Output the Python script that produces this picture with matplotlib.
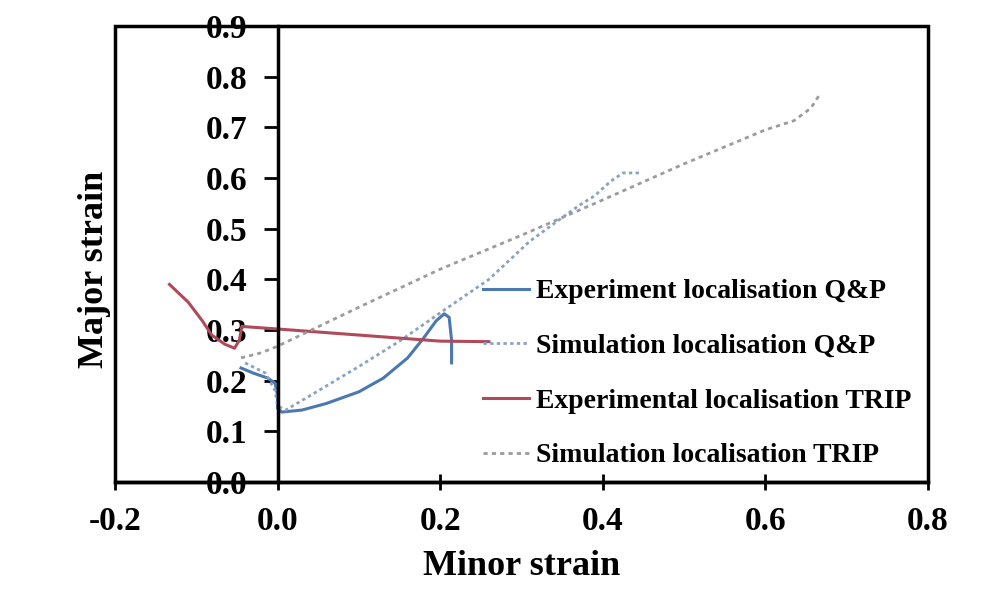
import matplotlib
matplotlib.use("Agg")
import matplotlib.pyplot as plt
from matplotlib.patches import Rectangle
from matplotlib.ticker import FormatStrFormatter, MultipleLocator

# ---- forming-limit strain paths (minor, major) ----
exp_qp_minor = [-0.045, -0.03, -0.012, -0.003, 0.0, 0.0, 0.005, 0.03, 0.06, 0.10, 0.13, 0.16, 0.18, 0.195, 0.205, 0.211, 0.214, 0.214]
exp_qp_major = [0.225, 0.215, 0.205, 0.195, 0.17, 0.145, 0.138, 0.142, 0.155, 0.178, 0.205, 0.245, 0.285, 0.318, 0.332, 0.325, 0.28, 0.235]

sim_qp_minor = [-0.04, -0.015, -0.003, 0.0, 0.01, 0.05, 0.10, 0.15, 0.21, 0.26, 0.31, 0.37, 0.39, 0.41, 0.425, 0.447]
sim_qp_major = [0.235, 0.215, 0.18, 0.15, 0.142, 0.18, 0.228, 0.278, 0.345, 0.40, 0.475, 0.545, 0.565, 0.594, 0.61, 0.61]

exp_trip_minor = [-0.133, -0.11, -0.093, -0.081, -0.065, -0.053, -0.047, -0.044, 0.0, 0.10, 0.20, 0.26]
exp_trip_major = [0.39, 0.355, 0.319, 0.29, 0.272, 0.264, 0.28, 0.307, 0.302, 0.29, 0.278, 0.277]

sim_trip_minor = [-0.045, -0.02, 0.0, 0.10, 0.20, 0.30, 0.389, 0.50, 0.60, 0.635, 0.656, 0.668]
sim_trip_major = [0.245, 0.255, 0.268, 0.345, 0.42, 0.487, 0.549, 0.628, 0.695, 0.713, 0.738, 0.768]

labels = ["Experiment localisation Q&P", "Simulation localisation Q&P",
          "Experimental localisation TRIP", "Simulation localisation TRIP"]

x_ticks = [-0.2, 0.0, 0.2, 0.4, 0.6, 0.8]

plt.rcParams["font.family"] = ["Liberation Serif", "DejaVu Serif"]
plt.rcParams["font.weight"] = "bold"

fig = plt.figure(figsize=(9.83, 5.94), dpi=100)
ax = fig.add_axes([115 / 983, 1 - 482 / 594, 813 / 983, 456 / 594])

ax.plot(exp_qp_minor, exp_qp_major, color="#4a78b0", lw=2.2, label=labels[0])
ax.plot(sim_qp_minor, sim_qp_major, color="#8aa2c2", lw=2.0, ls=(0, (1.2, 1.2)), label=labels[1])
ax.plot(exp_trip_minor, exp_trip_major, color="#b04a5a", lw=2.2, label=labels[2])
ax.plot(sim_trip_minor, sim_trip_major, color="#9c9c9c", lw=2.0, ls=(0, (1.5, 1.5)), label=labels[3])

ax.set_xlim(-0.2, 0.8)
ax.set_ylim(0.0, 0.9)
ax.set_xticks(x_ticks)
ax.yaxis.set_major_locator(MultipleLocator(0.1))
ax.xaxis.set_major_formatter(FormatStrFormatter("%.1f"))
ax.yaxis.set_major_formatter(FormatStrFormatter("%.1f"))

# y axis sits at minor strain = 0, plot area gets its own border
for side in ("top", "right"):
    ax.spines[side].set_visible(False)
ax.spines["left"].set_position(("data", 0.0))
ax.spines["left"].set_linewidth(2.5)
ax.spines["bottom"].set_linewidth(2.5)
ax.add_patch(Rectangle((0, 0), 1, 1, transform=ax.transAxes, fill=False,
                       lw=2.5, ec="black", clip_on=False, zorder=3))

ax.tick_params(axis="y", direction="out", length=10, width=2, pad=12, labelsize=24)
ax.tick_params(axis="x", direction="inout", length=12, width=2, pad=11, labelsize=24)

ax.set_xlabel("Minor strain", fontsize=26, fontweight="bold")
ax.set_ylabel("Major strain", fontsize=26, fontweight="bold")
ax.xaxis.set_label_coords(0.5, -0.15)
ax.yaxis.set_label_coords(-0.005, 0.467)

ax.legend(loc="upper left", bbox_to_anchor=(483 / 983, 1 - 279 / 594),
          bbox_transform=fig.transFigure, frameon=False, fontsize=20,
          handlelength=1.65, handletextpad=0.25, labelspacing=1.05,
          borderpad=0, borderaxespad=0)

fig.savefig("out.png", dpi=100)
